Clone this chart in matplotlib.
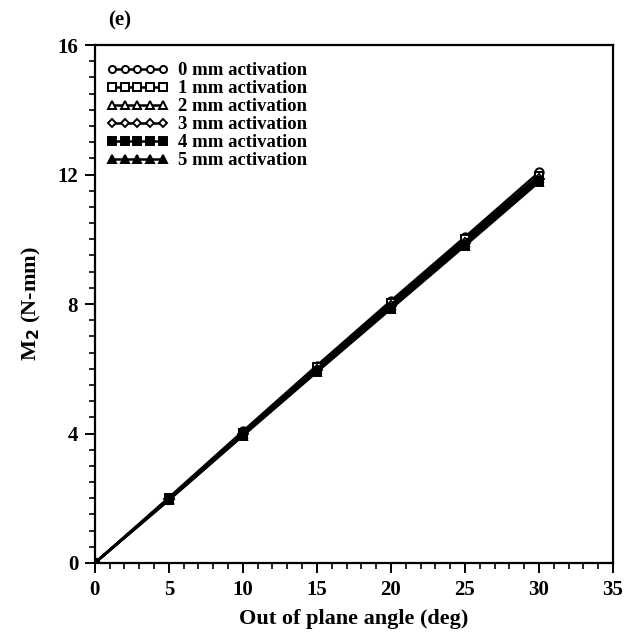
import matplotlib
matplotlib.use("Agg")
import matplotlib.pyplot as plt
from matplotlib.ticker import MultipleLocator

plt.rcParams['font.family'] = ['Liberation Serif', 'DejaVu Serif']
plt.rcParams['font.weight'] = 'bold'

angle = [0, 5, 10, 15, 20, 25, 30]
m0 = [0, 2.02, 4.07, 6.10, 8.10, 10.07, 12.07]
m1 = [0, 2.00, 4.03, 6.05, 8.03, 10.00, 11.97]
m2 = [0, 1.98, 4.00, 6.00, 7.98, 9.93, 11.90]
m3 = [0, 1.97, 3.98, 5.96, 7.93, 9.88, 11.85]
m4 = [0, 1.95, 3.95, 5.92, 7.88, 9.83, 11.80]
m5 = [0, 1.94, 3.93, 5.90, 7.85, 9.80, 11.77]
labels = ['0 mm activation', '1 mm activation', '2 mm activation',
          '3 mm activation', '4 mm activation', '5 mm activation']
series = [m0, m1, m2, m3, m4, m5]
markers = ['o', 's', '^', 'D', 's', '^']
faces = ['white', 'white', 'white', 'white', 'black', 'black']

fig = plt.figure(figsize=(6.32, 6.35), dpi=100)
ax = fig.add_axes([0.150, 0.1134, 0.820, 0.8156])

for y, mk, fc, lab in zip(series, markers, faces, labels):
    ax.plot(angle, y, color='black', lw=1.8, marker=mk, ms=6 if mk != 'D' else 5,
            mfc=fc, mec='black', mew=1.4, label=lab)

ax.set_xlim(0, 35)
ax.set_ylim(0, 16)
ax.xaxis.set_major_locator(MultipleLocator(5))
ax.xaxis.set_minor_locator(MultipleLocator(1))
ax.yaxis.set_major_locator(MultipleLocator(4))
ax.yaxis.set_minor_locator(MultipleLocator(0.5))
ax.tick_params(which='major', direction='out', length=7, width=1.4, labelsize=15, pad=5)
ax.tick_params(which='minor', direction='out', length=4, width=1.2)
for lbl in ax.get_xticklabels() + ax.get_yticklabels():
    lbl.set_fontweight('bold')
for s in ax.spines.values():
    s.set_linewidth(1.6)

ax.set_xlabel('Out of plane angle (deg)', fontsize=16, fontweight='bold', labelpad=7)
ax.set_ylabel('M$_\\mathbf{2}$ (N-mm)', fontsize=16, fontweight='bold', labelpad=10)
fig.text(0.19, 0.968, '(e)', fontsize=15, fontweight='bold', ha='center', va='center')

leg = ax.legend(loc='upper left', bbox_to_anchor=(-0.01, 1.0), frameon=False, numpoints=5,
                handlelength=3.3, handletextpad=0.5, labelspacing=0.05,
                prop={'weight': 'bold', 'size': 13.5}, borderaxespad=0.5, markerscale=0.85)

fig.savefig('out.png', dpi=100)
